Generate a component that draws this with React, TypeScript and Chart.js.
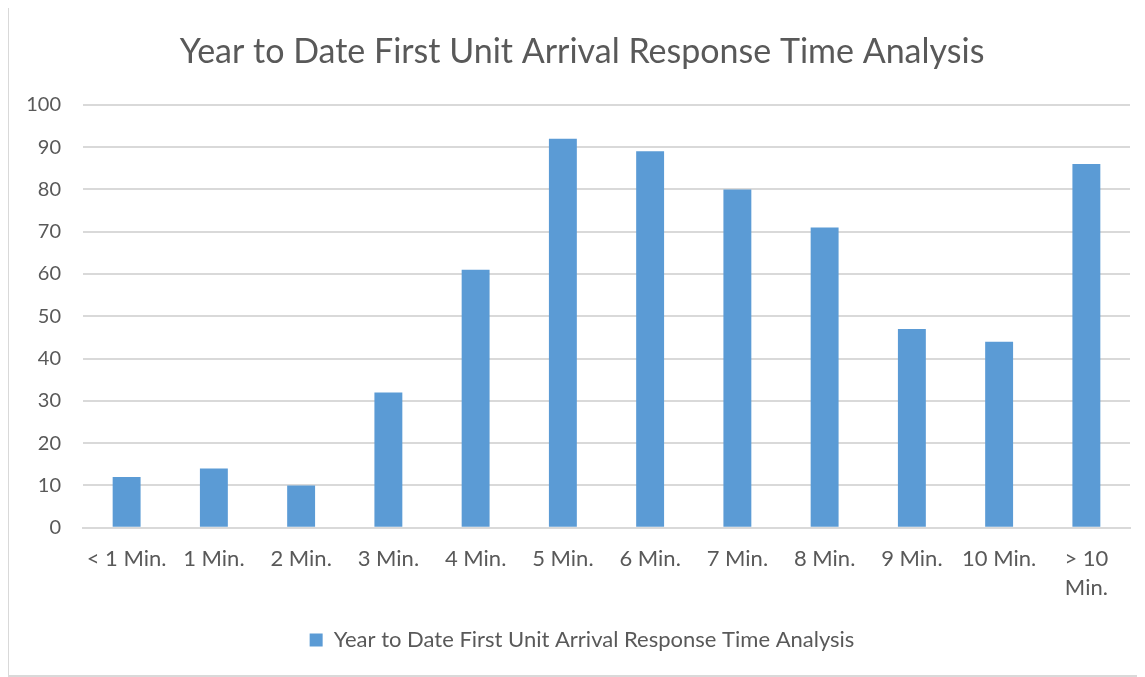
import React, { useEffect, useRef } from "react";
import { Chart, registerables } from "chart.js";

Chart.register(...registerables);

const categories: (string | string[])[] = [
  "< 1 Min.", "1 Min.", "2 Min.", "3 Min.", "4 Min.", "5 Min.",
  "6 Min.", "7 Min.", "8 Min.", "9 Min.", "10 Min.", ["> 10", "Min."],
];
const seriesName = "Year to Date First Unit Arrival Response Time Analysis";
const values = [12, 14, 10, 32, 61, 92, 89, 80, 71, 47, 44, 86];
const titleText = "Year to Date First Unit Arrival Response Time Analysis";

const FONT = "Lato, 'Open Sans', sans-serif";
const TEXT = "#595959";

export default function App() {
  const ref = useRef<HTMLCanvasElement | null>(null);
  useEffect(() => {
    if (!ref.current) return;
    const chart = new Chart(ref.current, {
      type: "bar",
      data: {
        labels: categories,
        datasets: [
          {
            label: seriesName,
            data: values,
            backgroundColor: "#5B9BD5",
            borderWidth: 0,
            barPercentage: 0.32,
            categoryPercentage: 1,
          },
        ],
      },
      options: {
        animation: false,
        responsive: false,
        layout: { padding: { left: 25, right: 10, top: 24, bottom: 14 } },
        plugins: {
          title: {
            display: true,
            text: titleText,
            color: TEXT,
            font: { family: FONT, size: 34, weight: "normal" },
            padding: { top: 0, bottom: 32 },
          },
          legend: {
            position: "bottom",
            labels: {
              color: TEXT,
              font: { family: FONT, size: 22 },
              boxWidth: 13,
              boxHeight: 13,
              padding: 10,
            },
          },
          tooltip: { enabled: false },
        },
        scales: {
          x: {
            grid: { display: false, drawTicks: false },
            border: { display: true, color: "#d9d9d9", width: 2 },
            ticks: {
              color: TEXT,
              font: { family: FONT, size: 22, lineHeight: 1.3 },
              padding: 17,
              maxRotation: 0,
              autoSkip: false,
            },
            afterFit: (s: any) => {
              s.paddingLeft = 0;
              s.paddingRight = 0;
            },
          },
          y: {
            min: 0,
            max: 100,
            grid: { color: "#d9d9d9", lineWidth: 2, drawTicks: false },
            border: { display: false },
            ticks: {
              stepSize: 10,
              color: TEXT,
              font: { family: FONT, size: 20 },
              padding: 22,
            },
            afterFit: (s: any) => {
              s.width = 49;
              s._computeLabelArea = () => undefined;
            },
          },
        },
      },
    });
    return () => chart.destroy();
  }, []);
  return (
    <div
      style={{
        width: 1135,
        height: 671,
        marginTop: -2,
        marginLeft: -1,
        border: "2px solid #d9d9d9",
        boxSizing: "border-box",
        background: "#fff",
      }}
    >
      <canvas ref={ref} width={1131} height={667} />
    </div>
  );
}
